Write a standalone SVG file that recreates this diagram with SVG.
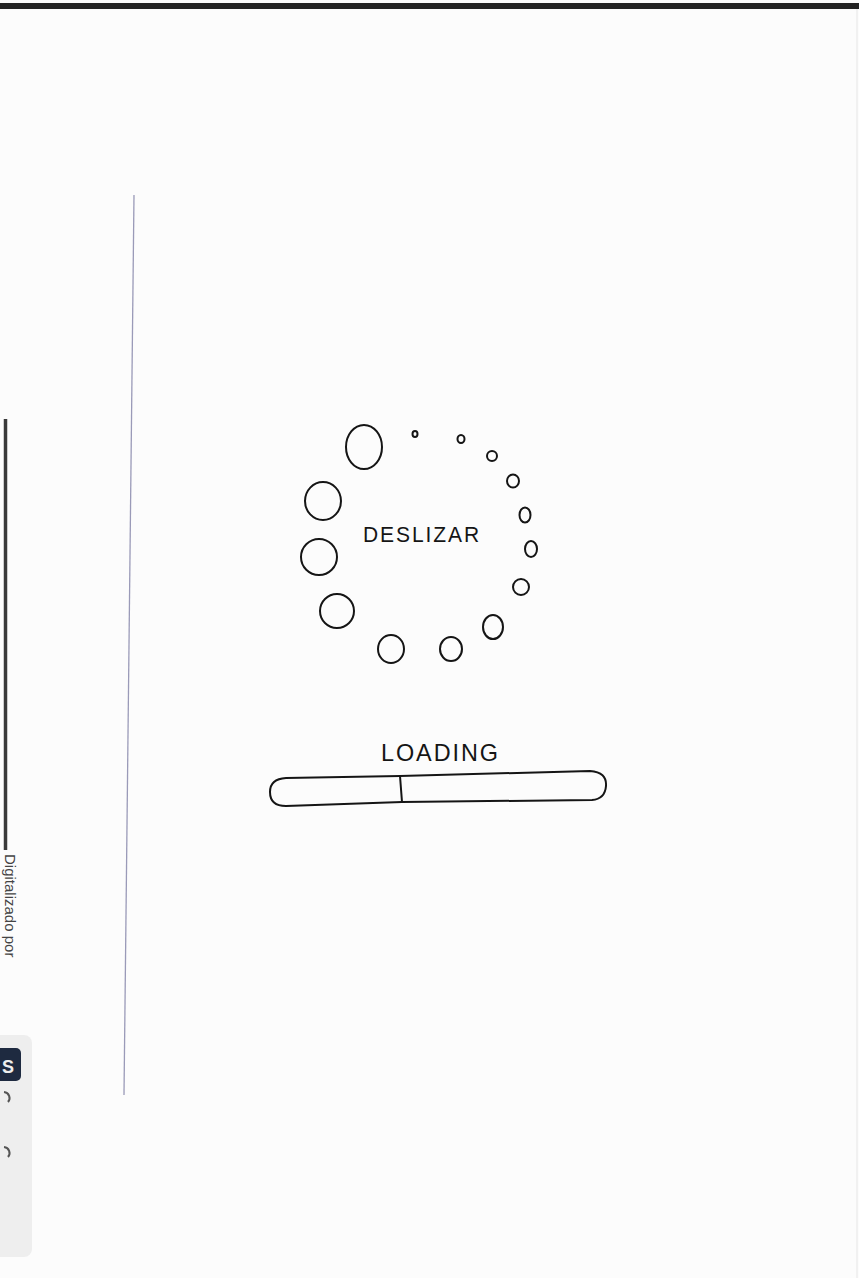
<svg xmlns="http://www.w3.org/2000/svg" width="859" height="1278" viewBox="0 0 859 1278">
<style>
.ink{fill:none;stroke:#151515;stroke-width:2;stroke-linecap:round;stroke-linejoin:round}
.hand{font-family:"Liberation Sans",Arial,sans-serif;fill:#151515}
</style>
<rect width="859" height="1278" fill="#fcfcfc"/>
<g id="scan-edges">
<rect x="0" y="3" width="859" height="6" fill="#232323"/>
<line x1="857" y1="9" x2="857" y2="1278" stroke="#e6e6e6" stroke-width="1"/>
<line x1="5.5" y1="419" x2="5.5" y2="850" stroke="#3a3a3a" stroke-width="3.5"/>
<text transform="translate(5,854) rotate(90)" font-family="Liberation Sans,Arial,sans-serif" font-size="15" fill="#444">Digitalizado por</text>
<rect x="-8" y="1035" width="40" height="222" rx="8" fill="#eeeeee"/>
<rect x="-6" y="1048" width="27" height="33" rx="5" fill="#1e2a40"/>
<text x="2" y="1073" font-family="Liberation Sans,Arial,sans-serif" font-size="18" font-weight="bold" fill="#eeeeee">S</text>
<path d="M4,1092 a6,6 0 0 1 4,10" fill="none" stroke="#555" stroke-width="2"/>
<path d="M4,1147 a6,6 0 0 1 4,10" fill="none" stroke="#555" stroke-width="2"/>
<line x1="134" y1="195" x2="124" y2="1095" stroke="#9a9ab8" stroke-width="1.3"/>
</g>
<g id="spinner">
<ellipse class="ink" cx="364" cy="447" rx="18" ry="22"/>
<ellipse class="ink" cx="323" cy="501" rx="18" ry="19"/>
<ellipse class="ink" cx="319" cy="557" rx="18" ry="18"/>
<ellipse class="ink" cx="337" cy="611" rx="17" ry="17"/>
<ellipse class="ink" cx="391" cy="649" rx="13" ry="14"/>
<ellipse class="ink" cx="451" cy="649" rx="11" ry="12"/>
<ellipse class="ink" cx="493" cy="627" rx="10" ry="12"/>
<ellipse class="ink" cx="521" cy="587" rx="8" ry="8"/>
<ellipse class="ink" cx="531" cy="549" rx="6" ry="8"/>
<ellipse class="ink" cx="525" cy="515" rx="5.5" ry="7.5"/>
<ellipse class="ink" cx="513" cy="481" rx="6" ry="6.5"/>
<ellipse class="ink" cx="492" cy="456" rx="5" ry="5"/>
<ellipse class="ink" cx="461" cy="439" rx="3.5" ry="4"/>
<ellipse class="ink" cx="415" cy="434" rx="2.5" ry="3"/>
</g>
<g id="label-deslizar">
<text class="hand" x="363" y="542" font-size="22" letter-spacing="2" textLength="118" lengthAdjust="spacingAndGlyphs">DESLIZAR</text>
</g>
<g id="label-loading">
<text class="hand" x="381" y="761" font-size="24" letter-spacing="2" textLength="119" lengthAdjust="spacingAndGlyphs">LOADING</text>
</g>
<g id="progress-bar">
<path class="ink" d="M286,778 L400,776 L590,771 Q607,772 606,786 Q605,799 592,800 L402,802 L286,806 Q270,806 270,792 Q270,779 286,778 Z"/>
<line class="ink" x1="400" y1="776" x2="402" y2="802"/>
</g>
</svg>
